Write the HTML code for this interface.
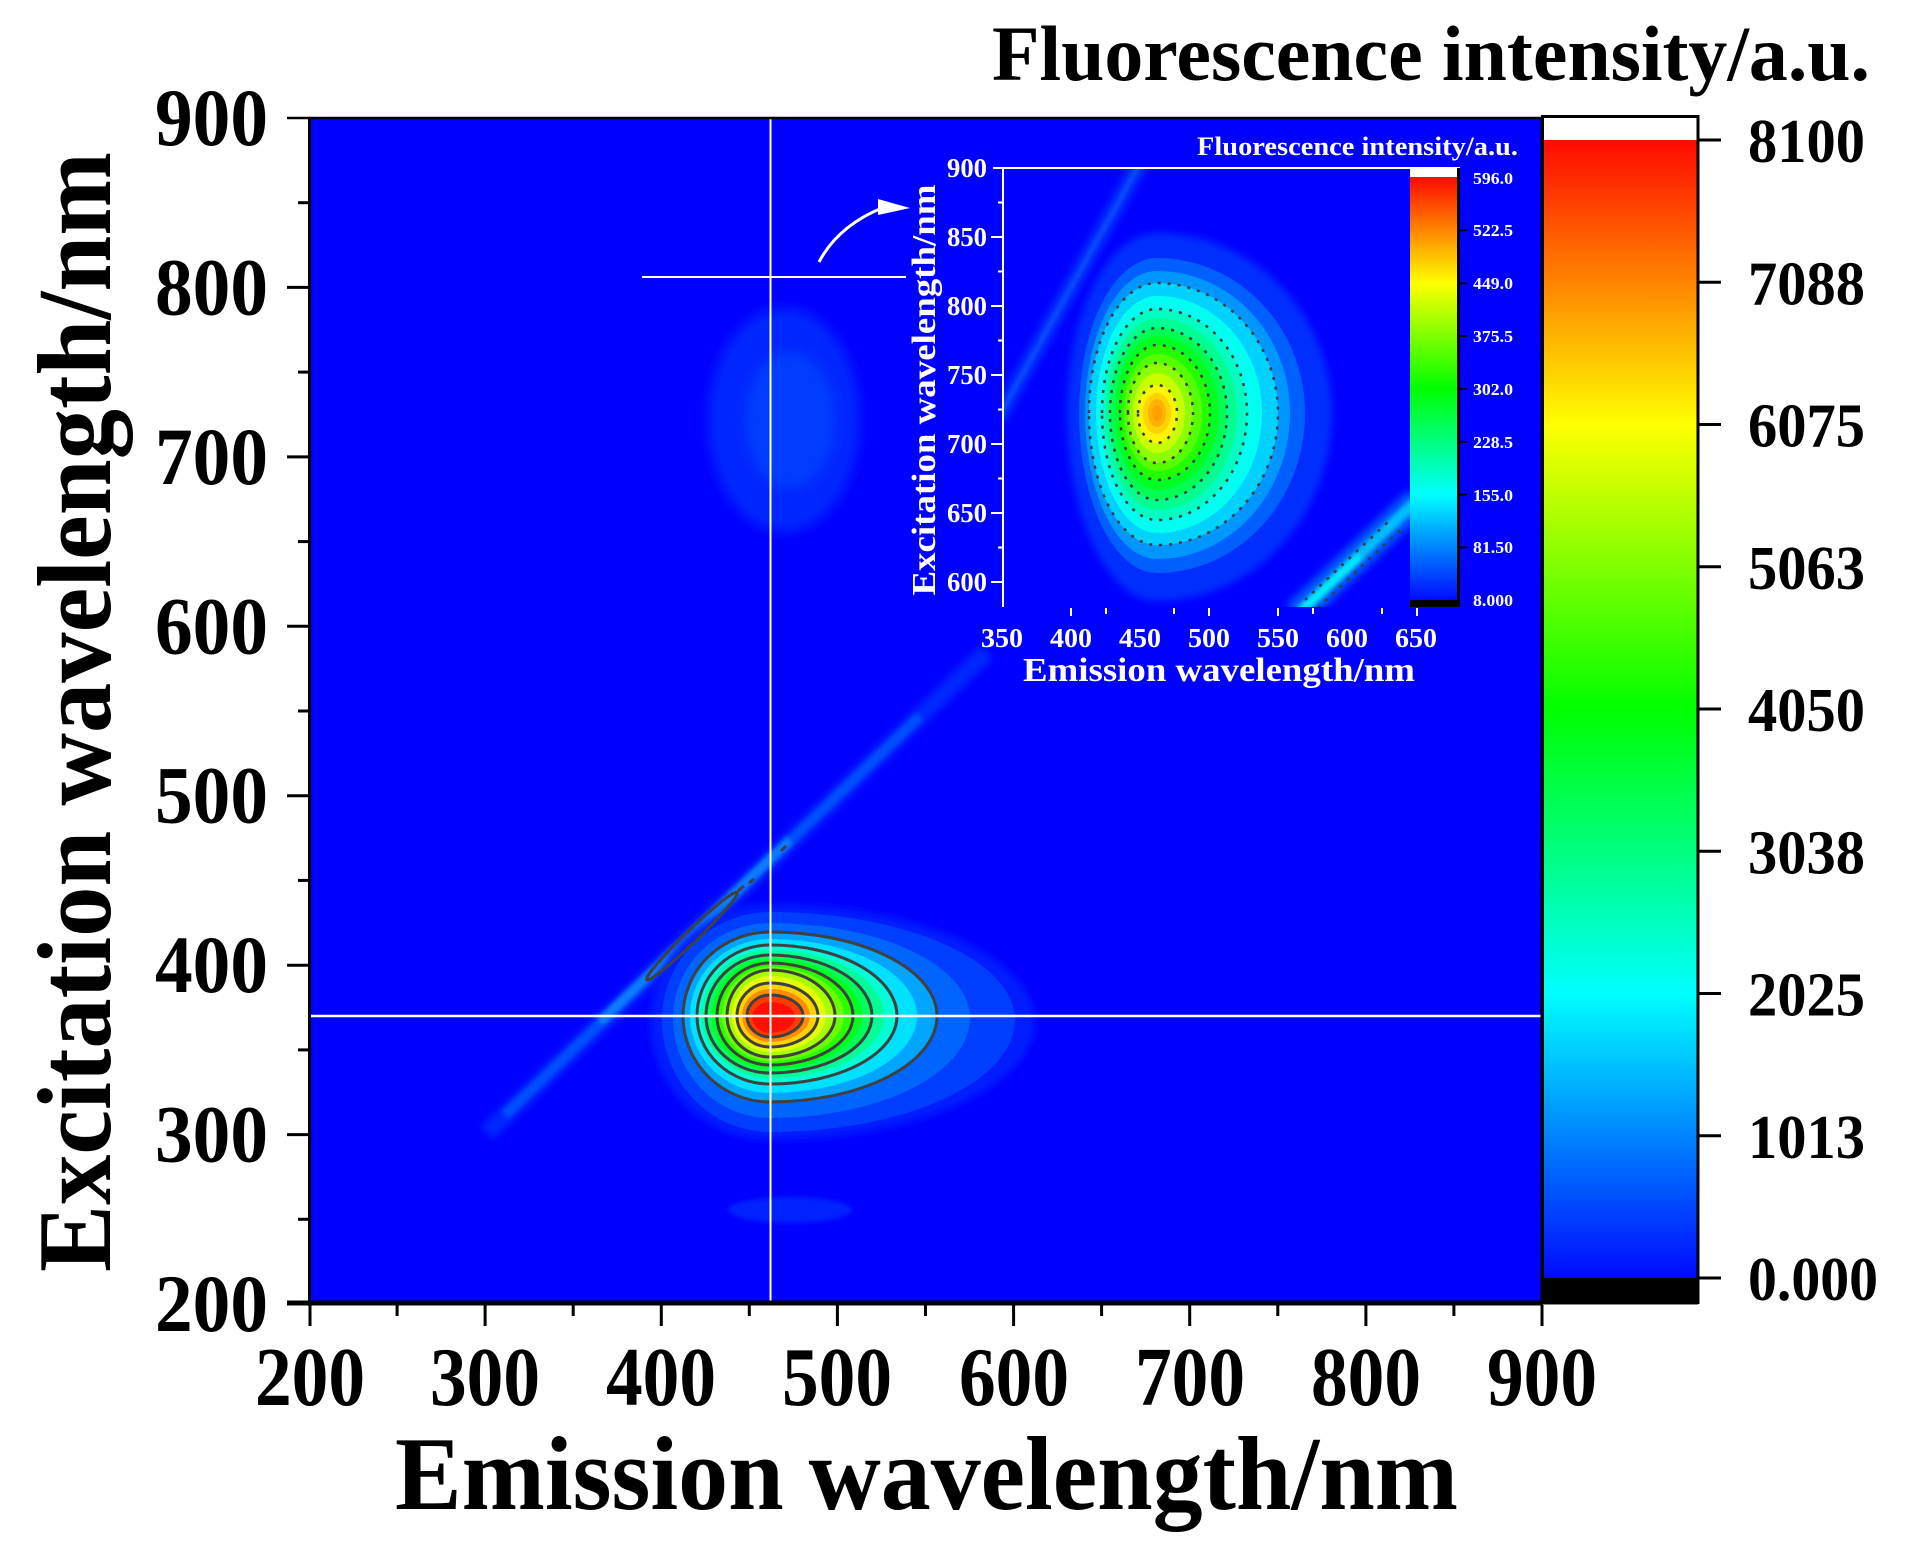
<!DOCTYPE html>
<html><head><meta charset="utf-8"><style>
html,body{margin:0;padding:0;background:#fff;}
svg{display:block;}
text{font-family:"Liberation Serif","Times New Roman",serif;font-weight:bold;}
</style></head><body>
<svg width="1908" height="1546" viewBox="0 0 1908 1546" xmlns="http://www.w3.org/2000/svg">
<defs>
<linearGradient id="rb" x1="0" y1="0" x2="0" y2="1">
<stop offset="0" stop-color="rgb(255,10,0)"/>
<stop offset="0.25" stop-color="rgb(255,255,0)"/>
<stop offset="0.5" stop-color="rgb(0,255,0)"/>
<stop offset="0.75" stop-color="rgb(0,255,255)"/>
<stop offset="1" stop-color="rgb(0,10,255)"/>
</linearGradient>
<filter id="b6" x="-50%" y="-50%" width="200%" height="200%"><feGaussianBlur stdDeviation="6"/></filter>
<filter id="b4" x="-50%" y="-50%" width="200%" height="200%"><feGaussianBlur stdDeviation="4"/></filter>
<filter id="b2" x="-50%" y="-50%" width="200%" height="200%"><feGaussianBlur stdDeviation="2"/></filter>
<clipPath id="mainclip"><rect x="309" y="118" width="1233" height="1186"/></clipPath>
<clipPath id="insclip"><rect x="1003" y="168" width="407" height="439"/></clipPath>
</defs>

<rect x="0" y="0" width="1908" height="1546" fill="#fff"/>

<!-- main plot -->
<rect x="309" y="118" width="1233" height="1186" fill="rgb(0,0,255)"/>
<g clip-path="url(#mainclip)">
  <!-- second order blob -->
  <ellipse cx="784" cy="420" rx="76" ry="112" fill="rgb(0,38,255)" filter="url(#b6)"/>
  <ellipse cx="790" cy="420" rx="45" ry="68" fill="rgb(0,60,255)" filter="url(#b6)"/>
  <!-- bottom faint spot -->
  <ellipse cx="790" cy="1210" rx="62" ry="13" fill="rgb(0,35,255)" filter="url(#b2)"/>
  <!-- Rayleigh streak -->
  <line x1="487" y1="1133" x2="987" y2="652" stroke="rgb(0,40,255)" stroke-width="18" filter="url(#b4)"/>
  <line x1="505" y1="1115" x2="920" y2="716" stroke="rgb(0,80,255)" stroke-width="10" filter="url(#b2)"/>
  <line x1="600" y1="1022" x2="790" y2="840" stroke="rgb(10,125,255)" stroke-width="9" filter="url(#b2)"/>

  <!-- main blob -->
  <path d="M650,1022 A120 118 0 0 1 770,904 A265 118 0 0 1 1035,1022 A265 118 0 0 1 770,1140 A120 118 0 0 1 650,1022Z" fill="rgb(0,28,255)" filter="url(#b4)"/>
  <path d="M662,1020 A108 108 0 0 1 770,912 A245 108 0 0 1 1015,1020 A245 112 0 0 1 770,1132 A108 112 0 0 1 662,1020Z" fill="rgb(0,62,255)"/>
  <path d="M673,1018 A97 95 0 0 1 770,923 A200 95 0 0 1 970,1018 A200 100 0 0 1 770,1118 A97 100 0 0 1 673,1018Z" fill="rgb(0,100,255)"/>
  <path d="M683,1016 A87 84 0 0 1 770,932 A167 84 0 0 1 937,1016 A167 86 0 0 1 770,1102 A87 86 0 0 1 683,1016Z" fill="rgb(0,165,255)"/>
  <path d="M690,1016 A80 77 0 0 1 770,939 A147 77 0 0 1 917,1016 A147 77 0 0 1 770,1093 A80 77 0 0 1 690,1016Z" fill="rgb(0,225,255)"/>
  <path d="M697,1016 A73 71 0 0 1 770,945 A127 71 0 0 1 897,1016 A127 68 0 0 1 770,1084 A73 68 0 0 1 697,1016Z" fill="rgb(0,255,215)"/>
  <path d="M702,1016 A68 66 0 0 1 770,950 A114 66 0 0 1 884,1016 A114 62 0 0 1 770,1078 A68 62 0 0 1 702,1016Z" fill="rgb(0,255,150)"/>
  <path d="M706,1016 A64 61 0 0 1 770,955 A102 61 0 0 1 872,1016 A102 57 0 0 1 770,1073 A64 57 0 0 1 706,1016Z" fill="rgb(0,255,90)"/>
  <path d="M712,1016 A58 57 0 0 1 770,959 A92 57 0 0 1 862,1016 A92 53 0 0 1 770,1069 A58 53 0 0 1 712,1016Z" fill="rgb(0,255,30)"/>
  <path d="M717,1016 A53 53 0 0 1 770,963 A83 53 0 0 1 853,1016 A83 49 0 0 1 770,1065 A53 49 0 0 1 717,1016Z" fill="rgb(40,255,0)"/>
  <path d="M722,1016 A48 49 0 0 1 770,967 A74 49 0 0 1 844,1016 A74 45 0 0 1 770,1061 A48 45 0 0 1 722,1016Z" fill="rgb(105,255,0)"/>
  <path d="M727,1016 A43 46 0 0 1 770,970 A65 46 0 0 1 835,1016 A65 41 0 0 1 770,1057 A43 41 0 0 1 727,1016Z" fill="rgb(165,255,0)"/>
  <path d="M732,1016 A38 40 0 0 1 770,976 A56 40 0 0 1 826,1016 A56 36 0 0 1 770,1052 A38 36 0 0 1 732,1016Z" fill="rgb(228,255,0)"/>
  <path d="M737,1016 A33 33 0 0 1 770,983 A48 33 0 0 1 818,1016 A48 31 0 0 1 770,1047 A33 31 0 0 1 737,1016Z" fill="rgb(255,210,0)"/>
  <path d="M742,1016 A28 27 0 0 1 770,989 A40 27 0 0 1 810,1016 A40 26 0 0 1 770,1042 A28 26 0 0 1 742,1016Z" fill="rgb(255,140,0)"/>
  <path d="M747,1016 A23 21 0 0 1 770,995 A33 21 0 0 1 803,1016 A33 21 0 0 1 770,1037 A23 21 0 0 1 747,1016Z" fill="rgb(255,60,0)"/>
  <path d="M752,1017 A18 15 0 0 1 770,1002 A25 15 0 0 1 795,1017 A25 16 0 0 1 770,1033 A18 16 0 0 1 752,1017Z" fill="rgb(255,15,0)"/>

  <!-- contour lines -->
  <g fill="none" stroke="rgb(64,64,64)" stroke-width="3">
  <path d="M683,1016 A87 84 0 0 1 770,932 A167 84 0 0 1 937,1016 A167 86 0 0 1 770,1102 A87 86 0 0 1 683,1016Z"/>
  <path d="M697,1016 A73 71 0 0 1 770,945 A127 71 0 0 1 897,1016 A127 68 0 0 1 770,1084 A73 68 0 0 1 697,1016Z"/>
  <path d="M706,1016 A64 61 0 0 1 770,955 A102 61 0 0 1 872,1016 A102 57 0 0 1 770,1073 A64 57 0 0 1 706,1016Z"/>
  <path d="M717,1016 A53 53 0 0 1 770,963 A83 53 0 0 1 853,1016 A83 49 0 0 1 770,1065 A53 49 0 0 1 717,1016Z"/>
  <path d="M727,1016 A43 46 0 0 1 770,970 A65 46 0 0 1 835,1016 A65 41 0 0 1 770,1057 A43 41 0 0 1 727,1016Z"/>
  <path d="M737,1016 A33 33 0 0 1 770,983 A48 33 0 0 1 818,1016 A48 31 0 0 1 770,1047 A33 31 0 0 1 737,1016Z"/>
  <path d="M747,1016 A23 21 0 0 1 770,995 A33 21 0 0 1 803,1016 A33 21 0 0 1 770,1037 A23 21 0 0 1 747,1016Z"/>
  <ellipse cx="692" cy="936" rx="63" ry="6" transform="rotate(-44 692 936)"/>
  <line x1="738" y1="891" x2="744" y2="886"/>
  <line x1="749" y1="883" x2="754" y2="879"/>
  <line x1="781" y1="851" x2="786" y2="846"/>
  </g>

  <!-- crosshair lines -->
  <line x1="770.5" y1="118" x2="770.5" y2="1304" stroke="#fff" stroke-width="2"/>
  <line x1="309" y1="1016" x2="1542" y2="1016" stroke="#fff" stroke-width="2.5"/>
  <line x1="642" y1="277" x2="906" y2="277" stroke="#fff" stroke-width="2"/>
  <!-- arrow -->
  <path d="M819,262 Q838,226 882,208" fill="none" stroke="#fff" stroke-width="3"/>
  <polygon points="878,199 892,203 910,208 878,215" fill="#fff"/>
</g>

<!-- INSET -->
<g clip-path="url(#insclip)">
  <line x1="1142" y1="160" x2="998" y2="418" stroke="rgb(0,45,255)" stroke-width="16" filter="url(#b4)"/>
  <line x1="1142" y1="160" x2="998" y2="418" stroke="rgb(10,75,255)" stroke-width="5" filter="url(#b2)"/>
  <path d="M1067,413 A90 180 0 0 1 1157,233 A175 180 0 0 1 1332,413 A175 188 0 0 1 1157,601 A90 188 0 0 1 1067,413Z" fill="rgb(0,45,255)" filter="url(#b4)"/>
  <path d="M1079,413 A78 155 0 0 1 1157,258 A148 155 0 0 1 1305,413 A148 160 0 0 1 1157,573 A78 160 0 0 1 1079,413Z" fill="rgb(0,95,255)"/>
  <path d="M1085,413 A72 142 0 0 1 1157,271 A133 142 0 0 1 1290,413 A133 146 0 0 1 1157,559 A72 146 0 0 1 1085,413Z" fill="rgb(0,150,255)"/>
  <path d="M1089,413 A68 130 0 0 1 1157,283 A121 130 0 0 1 1278,413 A121 132 0 0 1 1157,545 A68 132 0 0 1 1089,413Z" fill="rgb(0,210,255)"/>
  <path d="M1096,413 A61 117 0 0 1 1157,296 A105 117 0 0 1 1262,413 A105 120 0 0 1 1157,533 A61 120 0 0 1 1096,413Z" fill="rgb(0,255,240)"/>
  <path d="M1102,413 A55 104 0 0 1 1157,309 A90 104 0 0 1 1247,413 A90 107 0 0 1 1157,520 A55 107 0 0 1 1102,413Z" fill="rgb(0,255,195)"/>
  <path d="M1106,413 A51 95 0 0 1 1157,318 A80 95 0 0 1 1237,413 A80 97 0 0 1 1157,510 A51 97 0 0 1 1106,413Z" fill="rgb(0,255,145)"/>
  <path d="M1110,413 A47 85 0 0 1 1157,328 A70 85 0 0 1 1227,413 A70 87 0 0 1 1157,500 A47 87 0 0 1 1110,413Z" fill="rgb(0,255,85)"/>
  <path d="M1115,413 A42 77 0 0 1 1157,336 A62 77 0 0 1 1219,413 A62 77 0 0 1 1157,490 A42 77 0 0 1 1115,413Z" fill="rgb(0,255,35)"/>
  <path d="M1120,413 A37 68 0 0 1 1157,345 A53 68 0 0 1 1210,413 A53 67 0 0 1 1157,480 A37 67 0 0 1 1120,413Z" fill="rgb(35,255,0)"/>
  <path d="M1124,413 A33 59 0 0 1 1157,354 A45 59 0 0 1 1202,413 A45 58 0 0 1 1157,471 A33 58 0 0 1 1124,413Z" fill="rgb(85,255,0)"/>
  <path d="M1128,413 A29 50 0 0 1 1157,363 A36 50 0 0 1 1193,413 A36 50 0 0 1 1157,463 A29 50 0 0 1 1128,413Z" fill="rgb(140,255,0)"/>
  <path d="M1133,413 A24 40 0 0 1 1157,373 A28 40 0 0 1 1185,413 A28 40 0 0 1 1157,453 A24 40 0 0 1 1133,413Z" fill="rgb(200,255,0)"/>
  <path d="M1138,413 A19 28 0 0 1 1157,385 A20 28 0 0 1 1177,413 A20 30 0 0 1 1157,443 A19 30 0 0 1 1138,413Z" fill="rgb(250,245,0)"/>
  <path d="M1143,413 A14 20 0 0 1 1157,393 A14 20 0 0 1 1171,413 A14 21 0 0 1 1157,434 A14 21 0 0 1 1143,413Z" fill="rgb(255,210,0)"/>
  <ellipse cx="1157" cy="413" rx="9" ry="14" fill="rgb(255,178,0)"/>
  <ellipse cx="1157" cy="413" rx="5" ry="8" fill="rgb(255,160,0)"/>
  <g fill="none" stroke="rgb(60,60,60)" stroke-width="2.5" stroke-dasharray="3 7">
  <path d="M1089,413 A68 130 0 0 1 1157,283 A121 130 0 0 1 1278,413 A121 132 0 0 1 1157,545 A68 132 0 0 1 1089,413Z"/>
  <path d="M1102,413 A55 104 0 0 1 1157,309 A90 104 0 0 1 1247,413 A90 107 0 0 1 1157,520 A55 107 0 0 1 1102,413Z"/>
  <path d="M1110,413 A47 85 0 0 1 1157,328 A70 85 0 0 1 1227,413 A70 87 0 0 1 1157,500 A47 87 0 0 1 1110,413Z"/>
  <path d="M1120,413 A37 68 0 0 1 1157,345 A53 68 0 0 1 1210,413 A53 67 0 0 1 1157,480 A37 67 0 0 1 1120,413Z"/>
  <path d="M1128,413 A29 50 0 0 1 1157,363 A36 50 0 0 1 1193,413 A36 50 0 0 1 1157,463 A29 50 0 0 1 1128,413Z"/>
  <path d="M1138,413 A19 28 0 0 1 1157,385 A20 28 0 0 1 1177,413 A20 30 0 0 1 1157,443 A19 30 0 0 1 1138,413Z"/>
  </g>
  <!-- bottom right streak -->
  <line x1="1296" y1="615" x2="1418" y2="500" stroke="rgb(0,90,255)" stroke-width="28" filter="url(#b4)"/>
  <line x1="1300" y1="612" x2="1414" y2="503" stroke="rgb(0,190,255)" stroke-width="11" filter="url(#b2)"/>
  <line x1="1302" y1="610" x2="1360" y2="556" stroke="rgb(0,240,255)" stroke-width="6" filter="url(#b2)"/>
  <g stroke="rgb(60,60,60)" stroke-width="2.5" stroke-dasharray="3 7">
  <line x1="1305" y1="600" x2="1390" y2="520"/>
  <line x1="1318" y1="608" x2="1400" y2="530"/>
  </g>
</g>

<!-- inset axes -->
<g stroke="#fff" stroke-width="2">
  <line x1="1003" y1="168" x2="1003" y2="607"/>
  <line x1="993" y1="168" x2="1460" y2="168"/>
  <line x1="991" y1="237" x2="1003" y2="237"/>
  <line x1="991" y1="306" x2="1003" y2="306"/>
  <line x1="991" y1="375" x2="1003" y2="375"/>
  <line x1="991" y1="444" x2="1003" y2="444"/>
  <line x1="991" y1="513" x2="1003" y2="513"/>
  <line x1="991" y1="582" x2="1003" y2="582"/>
  <line x1="998" y1="202.5" x2="1003" y2="202.5"/>
  <line x1="998" y1="271.5" x2="1003" y2="271.5"/>
  <line x1="998" y1="340.5" x2="1003" y2="340.5"/>
  <line x1="998" y1="409.5" x2="1003" y2="409.5"/>
  <line x1="998" y1="478.5" x2="1003" y2="478.5"/>
  <line x1="998" y1="547.5" x2="1003" y2="547.5"/>
  <line x1="1071" y1="608" x2="1071" y2="616"/>
  <line x1="1106" y1="608" x2="1106" y2="614"/>
  <line x1="1174" y1="608" x2="1174" y2="614"/>
  <line x1="1209" y1="608" x2="1209" y2="616"/>
  <line x1="1278" y1="608" x2="1278" y2="616"/>
  <line x1="1313" y1="608" x2="1313" y2="614"/>
  <line x1="1382" y1="608" x2="1382" y2="614"/>
  <line x1="1417" y1="608" x2="1417" y2="616"/>
</g>
<g fill="#fff" font-size="27">
  <text x="947" y="177" textLength="40" lengthAdjust="spacingAndGlyphs">900</text>
  <text x="947" y="246" textLength="40" lengthAdjust="spacingAndGlyphs">850</text>
  <text x="947" y="315" textLength="40" lengthAdjust="spacingAndGlyphs">800</text>
  <text x="947" y="384" textLength="40" lengthAdjust="spacingAndGlyphs">750</text>
  <text x="947" y="453" textLength="40" lengthAdjust="spacingAndGlyphs">700</text>
  <text x="947" y="522" textLength="40" lengthAdjust="spacingAndGlyphs">650</text>
  <text x="947" y="591" textLength="40" lengthAdjust="spacingAndGlyphs">600</text>
  <text x="981" y="647" textLength="42" lengthAdjust="spacingAndGlyphs">350</text>
  <text x="1050" y="647" textLength="42" lengthAdjust="spacingAndGlyphs">400</text>
  <text x="1119" y="647" textLength="42" lengthAdjust="spacingAndGlyphs">450</text>
  <text x="1188" y="647" textLength="42" lengthAdjust="spacingAndGlyphs">500</text>
  <text x="1257" y="647" textLength="42" lengthAdjust="spacingAndGlyphs">550</text>
  <text x="1326" y="647" textLength="42" lengthAdjust="spacingAndGlyphs">600</text>
  <text x="1395" y="647" textLength="42" lengthAdjust="spacingAndGlyphs">650</text>
  <text x="1023" y="681" font-size="34" textLength="392" lengthAdjust="spacingAndGlyphs">Emission wavelength/nm</text>
  <text transform="translate(935,390) rotate(-90)" text-anchor="middle" font-size="34" textLength="411" lengthAdjust="spacingAndGlyphs">Excitation wavelength/nm</text>
  <text x="1197" y="155" font-size="26" textLength="321" lengthAdjust="spacingAndGlyphs">Fluorescence intensity/a.u.</text>
</g>
<!-- inset colorbar -->
<rect x="1410" y="168" width="48" height="10" fill="#fff"/>
<rect x="1410" y="177" width="48" height="423" fill="url(#rb)"/>
<rect x="1410" y="600" width="48" height="7" fill="#000"/>
<line x1="1458.5" y1="168" x2="1458.5" y2="607" stroke="#000" stroke-width="3"/>
<g stroke="#000" stroke-width="2">
  <line x1="1458" y1="230.4" x2="1467" y2="230.4"/>
  <line x1="1458" y1="283.3" x2="1467" y2="283.3"/>
  <line x1="1458" y1="336.1" x2="1467" y2="336.1"/>
  <line x1="1458" y1="389" x2="1467" y2="389"/>
  <line x1="1458" y1="441.8" x2="1467" y2="441.8"/>
  <line x1="1458" y1="494.6" x2="1467" y2="494.6"/>
  <line x1="1458" y1="547.5" x2="1467" y2="547.5"/>
</g>
<g fill="#fff" font-size="17">
  <text x="1473" y="184" textLength="40" lengthAdjust="spacingAndGlyphs">596.0</text>
  <text x="1473" y="236" textLength="40" lengthAdjust="spacingAndGlyphs">522.5</text>
  <text x="1473" y="289" textLength="40" lengthAdjust="spacingAndGlyphs">449.0</text>
  <text x="1473" y="342" textLength="40" lengthAdjust="spacingAndGlyphs">375.5</text>
  <text x="1473" y="395" textLength="40" lengthAdjust="spacingAndGlyphs">302.0</text>
  <text x="1473" y="448" textLength="40" lengthAdjust="spacingAndGlyphs">228.5</text>
  <text x="1473" y="501" textLength="40" lengthAdjust="spacingAndGlyphs">155.0</text>
  <text x="1473" y="553" textLength="40" lengthAdjust="spacingAndGlyphs">81.50</text>
  <text x="1473" y="606" textLength="40" lengthAdjust="spacingAndGlyphs">8.000</text>
</g>

<!-- main axes frame -->
<g stroke="#000">
  <line x1="287" y1="118" x2="1542" y2="118" stroke-width="2.5"/>
  <line x1="309.5" y1="117" x2="309.5" y2="1306" stroke-width="3"/>
  <line x1="287" y1="1303" x2="1543" y2="1303" stroke-width="5"/>
  <line x1="1542" y1="117" x2="1542" y2="1306" stroke-width="3"/>
</g>
<g stroke="#000" stroke-width="3">
  <line x1="287" y1="287.4" x2="309" y2="287.4"/>
  <line x1="287" y1="456.9" x2="309" y2="456.9"/>
  <line x1="287" y1="626.3" x2="309" y2="626.3"/>
  <line x1="287" y1="795.7" x2="309" y2="795.7"/>
  <line x1="287" y1="965.2" x2="309" y2="965.2"/>
  <line x1="287" y1="1134.6" x2="309" y2="1134.6"/>
  <line x1="298" y1="202.7" x2="309" y2="202.7"/>
  <line x1="298" y1="372.1" x2="309" y2="372.1"/>
  <line x1="298" y1="541.6" x2="309" y2="541.6"/>
  <line x1="298" y1="711" x2="309" y2="711"/>
  <line x1="298" y1="880.4" x2="309" y2="880.4"/>
  <line x1="298" y1="1049.9" x2="309" y2="1049.9"/>
  <line x1="298" y1="1219.3" x2="309" y2="1219.3"/>
  <line x1="310" y1="1305" x2="310" y2="1326"/>
  <line x1="485.1" y1="1305" x2="485.1" y2="1326"/>
  <line x1="661.3" y1="1305" x2="661.3" y2="1326"/>
  <line x1="837.4" y1="1305" x2="837.4" y2="1326"/>
  <line x1="1013.6" y1="1305" x2="1013.6" y2="1326"/>
  <line x1="1189.7" y1="1305" x2="1189.7" y2="1326"/>
  <line x1="1365.9" y1="1305" x2="1365.9" y2="1326"/>
  <line x1="1542" y1="1305" x2="1542" y2="1326"/>
  <line x1="397.1" y1="1305" x2="397.1" y2="1316"/>
  <line x1="573.2" y1="1305" x2="573.2" y2="1316"/>
  <line x1="749.3" y1="1305" x2="749.3" y2="1316"/>
  <line x1="925.5" y1="1305" x2="925.5" y2="1316"/>
  <line x1="1101.6" y1="1305" x2="1101.6" y2="1316"/>
  <line x1="1277.8" y1="1305" x2="1277.8" y2="1316"/>
  <line x1="1453.9" y1="1305" x2="1453.9" y2="1316"/>
</g>

<!-- y tick labels -->
<g fill="#000" font-size="82">
  <text x="155" y="145" textLength="113" lengthAdjust="spacingAndGlyphs">900</text>
  <text x="155" y="314.4" textLength="113" lengthAdjust="spacingAndGlyphs">800</text>
  <text x="155" y="483.9" textLength="113" lengthAdjust="spacingAndGlyphs">700</text>
  <text x="155" y="653.3" textLength="113" lengthAdjust="spacingAndGlyphs">600</text>
  <text x="155" y="822.7" textLength="113" lengthAdjust="spacingAndGlyphs">500</text>
  <text x="155" y="992.2" textLength="113" lengthAdjust="spacingAndGlyphs">400</text>
  <text x="155" y="1161.6" textLength="113" lengthAdjust="spacingAndGlyphs">300</text>
  <text x="155" y="1331" textLength="113" lengthAdjust="spacingAndGlyphs">200</text>
</g>
<!-- x tick labels -->
<g fill="#000" font-size="84">
  <text x="255" y="1405" textLength="110" lengthAdjust="spacingAndGlyphs">200</text>
  <text x="430" y="1405" textLength="110" lengthAdjust="spacingAndGlyphs">300</text>
  <text x="606" y="1405" textLength="110" lengthAdjust="spacingAndGlyphs">400</text>
  <text x="782" y="1405" textLength="110" lengthAdjust="spacingAndGlyphs">500</text>
  <text x="959" y="1405" textLength="110" lengthAdjust="spacingAndGlyphs">600</text>
  <text x="1135" y="1405" textLength="110" lengthAdjust="spacingAndGlyphs">700</text>
  <text x="1311" y="1405" textLength="110" lengthAdjust="spacingAndGlyphs">800</text>
  <text x="1487" y="1405" textLength="110" lengthAdjust="spacingAndGlyphs">900</text>
</g>
<!-- axis titles -->
<text x="395" y="1509" font-size="105" fill="#000" textLength="1063" lengthAdjust="spacingAndGlyphs">Emission wavelength/nm</text>
<text transform="translate(110,712) rotate(-90)" text-anchor="middle" font-size="105" fill="#000" textLength="1120" lengthAdjust="spacingAndGlyphs">Excitation wavelength/nm</text>
<text x="992" y="80" font-size="78" fill="#000" textLength="878" lengthAdjust="spacingAndGlyphs">Fluorescence intensity/a.u.</text>

<!-- main colorbar -->
<rect x="1543" y="117" width="155" height="23" fill="#fff"/>
<rect x="1543" y="140" width="155" height="1138" fill="url(#rb)"/>
<rect x="1543" y="1278" width="155" height="24" fill="#000"/>
<rect x="1543" y="1302" width="155" height="3" fill="#888"/>
<rect x="1542.5" y="116.5" width="155.5" height="1186" fill="none" stroke="#000" stroke-width="3"/>
<g stroke="#000" stroke-width="3">
  <line x1="1698" y1="140" x2="1721" y2="140"/>
  <line x1="1698" y1="282.3" x2="1721" y2="282.3"/>
  <line x1="1698" y1="424.5" x2="1721" y2="424.5"/>
  <line x1="1698" y1="566.8" x2="1721" y2="566.8"/>
  <line x1="1698" y1="709" x2="1721" y2="709"/>
  <line x1="1698" y1="851.3" x2="1721" y2="851.3"/>
  <line x1="1698" y1="993.5" x2="1721" y2="993.5"/>
  <line x1="1698" y1="1135.8" x2="1721" y2="1135.8"/>
  <line x1="1698" y1="1278" x2="1721" y2="1278"/>
</g>
<g fill="#000" font-size="62">
  <text x="1748" y="162" textLength="117" lengthAdjust="spacingAndGlyphs">8100</text>
  <text x="1748" y="304.3" textLength="117" lengthAdjust="spacingAndGlyphs">7088</text>
  <text x="1748" y="446.5" textLength="117" lengthAdjust="spacingAndGlyphs">6075</text>
  <text x="1748" y="588.8" textLength="117" lengthAdjust="spacingAndGlyphs">5063</text>
  <text x="1748" y="731" textLength="117" lengthAdjust="spacingAndGlyphs">4050</text>
  <text x="1748" y="873.3" textLength="117" lengthAdjust="spacingAndGlyphs">3038</text>
  <text x="1748" y="1015.5" textLength="117" lengthAdjust="spacingAndGlyphs">2025</text>
  <text x="1748" y="1157.8" textLength="117" lengthAdjust="spacingAndGlyphs">1013</text>
  <text x="1748" y="1300" textLength="130" lengthAdjust="spacingAndGlyphs">0.000</text>
</g>
</svg>
</body></html>
